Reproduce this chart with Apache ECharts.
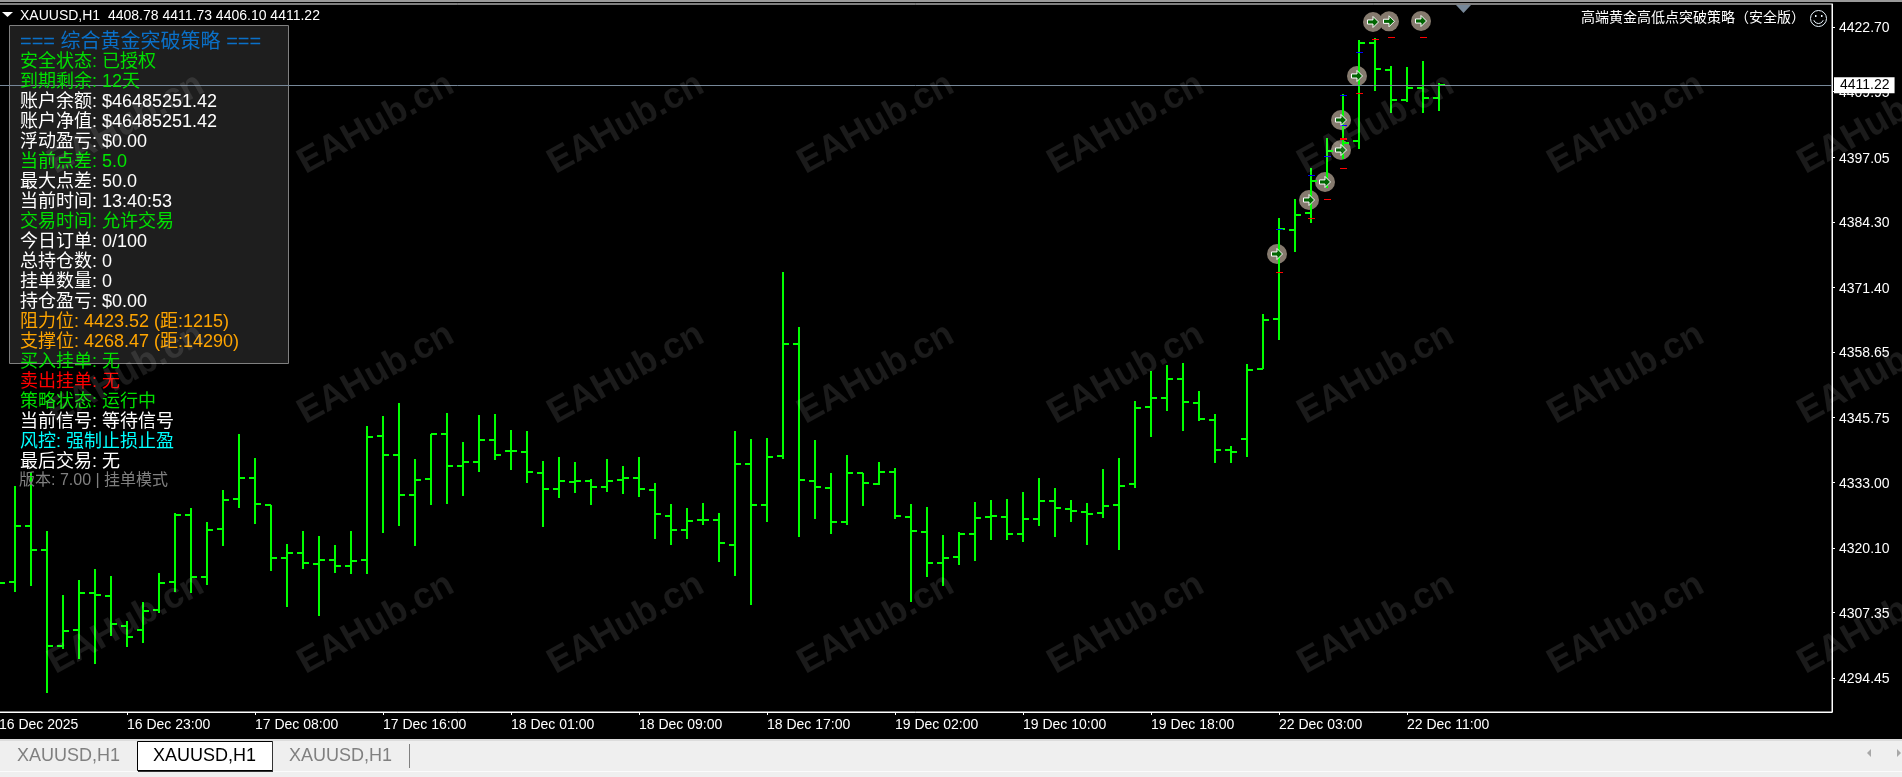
<!DOCTYPE html>
<html>
<head>
<meta charset="utf-8">
<title>XAUUSD,H1</title>
<style>html,body{margin:0;padding:0;background:#000;overflow:hidden}#c{width:1902px;height:777px}</style>
<script src="https://cdn.jsdelivr.net/npm/echarts@6/dist/echarts.min.js"></script>
</head>
<body>
<div id="c"></div>
<script>
// OHLC bars. The first entry is the bar just off the left edge; bar numbers run from -1.
const opens = [4318.00,
4313.37,4324.40,4319.73,4300.76,4303.91,4311.26,4310.67,4304.76,4303.91,4307.79,
4313.37,4326.62,4314.41,4323.81,4329.78,4333.85,4328.59,4318.03,4319.14,4316.97,
4317.76,4316.58,4317.76,4342.13,4338.38,4330.56,4333.72,4342.58,4336.22,4337.07,
4341.40,4339.23,4339.04,4334.90,4331.69,4333.13,4333.32,4332.14,4333.52,4333.91,
4331.55,4326.43,4323.61,4325.64,4325.64,4320.71,4336.67,4328.59,4338.19,4360.25,
4333.32,4331.94,4325.25,4334.90,4332.73,4335.10,4326.23,4323.28,4317.17,4318.35,
4322.88,4326.23,4326.23,4322.88,4325.84,4329.38,4327.75,4327.22,4327.02,4328.59,
4332.73,4347.90,4349.67,4353.42,4348.69,4345.28,4339.37,4341.54,4355.33,4365.24,
4382.71,4386.12,4392.42,4398.47,4400.30,4419.61,4414.29,4408.38,4410.74,4408.78];
const highs = [4320.50,
4332.28,4335.04,4323.41,4310.80,4313.76,4315.93,4314.55,4305.68,4309.43,4315.14,
4326.90,4327.88,4325.19,4331.49,4342.52,4337.79,4328.59,4320.79,4323.41,4322.43,
4320.65,4323.41,4344.10,4346.07,4348.57,4337.60,4342.52,4346.66,4340.95,4346.26,
4346.46,4343.31,4343.11,4337.20,4337.99,4337.01,4333.66,4337.60,4336.22,4337.99,
4332.87,4328.73,4327.94,4328.93,4326.96,4343.11,4341.54,4341.73,4374.44,4363.60,
4341.34,4334.84,4338.38,4334.90,4337.01,4335.82,4328.73,4328.14,4322.62,4323.22,
4329.13,4329.52,4329.72,4331.10,4333.85,4331.88,4329.52,4328.93,4335.63,4337.79,
4349.02,4354.93,4356.11,4356.51,4350.99,4346.46,4340.16,4356.31,4366.16,4385.07,
4388.82,4394.92,4400.83,4409.50,4420.14,4420.53,4415.02,4414.82,4416.00,4411.73];
const lows = [4310.00,
4311.46,4312.64,4291.56,4300.17,4298.26,4297.27,4302.79,4300.62,4301.41,4307.32,
4311.46,4311.26,4312.83,4320.52,4328.00,4324.85,4315.59,4308.50,4315.99,4306.73,
4315.20,4315.00,4315.00,4323.08,4324.40,4320.52,4328.53,4328.73,4330.31,4335.04,
4337.40,4335.43,4332.87,4324.20,4329.91,4330.90,4328.53,4331.10,4330.70,4330.11,
4321.84,4320.65,4321.84,4324.59,4317.31,4314.55,4308.83,4325.19,4337.60,4322.29,
4325.78,4322.82,4324.59,4328.34,4332.53,4325.78,4309.43,4314.35,4312.58,4316.71,
4317.50,4321.64,4321.64,4321.25,4324.40,4322.23,4325.19,4320.65,4325.97,4319.67,
4331.88,4341.93,4347.05,4343.11,4345.08,4336.81,4336.81,4337.99,4355.33,4361.04,
4378.38,4384.09,4390.98,4396.70,4398.67,4410.09,4405.76,4407.93,4405.76,4406.10];
const closes = [4313.23,
4324.40,4319.73,4300.76,4303.77,4311.26,4310.86,4305.15,4302.53,4307.65,4313.23,
4326.62,4314.41,4323.61,4329.58,4333.85,4328.79,4318.03,4319.14,4317.05,4317.76,
4316.58,4317.56,4341.99,4338.44,4330.56,4333.52,4342.46,4336.22,4337.07,4341.40,
4338.44,4339.23,4335.10,4331.69,4333.32,4333.32,4332.14,4333.32,4333.91,4331.69,
4326.82,4323.61,4325.38,4325.64,4321.11,4336.67,4328.59,4338.05,4360.25,4333.52,
4332.14,4325.25,4334.90,4332.93,4335.10,4326.43,4323.47,4317.17,4318.15,4322.76,
4326.03,4326.43,4322.88,4325.84,4329.38,4328.00,4327.41,4326.82,4328.40,4332.34,
4347.70,4349.67,4353.42,4348.89,4345.48,4339.37,4338.98,4355.13,4365.04,4382.91,
4385.66,4392.42,4398.33,4399.91,4419.61,4414.49,4408.38,4410.74,4408.71,4411.22];

// Trade markers
const markerBars   = [79,81,82,83,83,84,85,86,88];
const markerPrices = [4377.98,4388.62,4392.17,4398.47,4404.38,4413.05,4423.69,4423.82,4423.88];
const stopBars     = [79,81,82,83,83,83,84,85,86,88];
const stopPrices   = [4374.38,4385.01,4388.76,4394.86,4400.89,4400.62,4409.64,4420.28,4420.67,4420.67];
const targetBars   = [79,81,82,83,83,84];
const targetPrices = [4382.85,4393.49,4397.23,4403.34,4409.25,4417.84];

// Axes
const priceTicks = [4422.70,4409.95,4397.05,4384.30,4371.40,4358.65,4345.75,4333.00,4320.10,4307.35,4294.45];
const lastPrice = 4411.22;
const timeTickBars = [-1,7,15,23,31,39,47,55,63,71,79,87];
const timeTickLabels = ['16 Dec 2025','16 Dec 23:00','17 Dec 08:00','17 Dec 16:00','18 Dec 01:00','18 Dec 09:00',
  '18 Dec 17:00','19 Dec 02:00','19 Dec 10:00','19 Dec 18:00','22 Dec 03:00','22 Dec 11:00'];

// Texts
const headerText = 'XAUUSD,H1  4408.78 4411.73 4406.10 4411.22';
const eaName = '高端黄金高低点突破策略（安全版）';
const tabNames = ['XAUUSD,H1','XAUUSD,H1','XAUUSD,H1'];
const panelTexts = ['=== 综合黄金突破策略 ===','安全状态: 已授权','到期剩余: 12天','账户余额: $46485251.42','账户净值: $46485251.42',
  '浮动盈亏: $0.00','当前点差: 5.0','最大点差: 50.0','当前时间: 13:40:53','交易时间: 允许交易','今日订单: 0/100','总持仓数: 0',
  '挂单数量: 0','持仓盈亏: $0.00','阻力位: 4423.52 (距:1215)','支撑位: 4268.47 (距:14290)','买入挂单: 无','卖出挂单: 无',
  '策略状态: 运行中','当前信号: 等待信号','风控: 强制止损止盈','最后交易: 无','版本: 7.00 | 挂单模式'];
const panelColors = ['#0a70c8','#00e000','#00e000','#fff','#fff','#fff','#00e800','#fff','#fff','#00e000','#fff','#fff',
  '#fff','#fff','#ffa500','#ffa500','#00e000','#ff0000','#00e000','#fff','#00ffff','#fff','#808080'];

const FONT = '"Liberation Sans","Noto Sans CJK SC",sans-serif';
const GREEN = '#00ff00', SLATE = '#778899';

const barData = opens.map((o,k)=>[k-1,o,highs[k],lows[k],closes[k]]);
const zip = (a,b)=>a.map((v,k)=>[v,b[k]]);

function renderBar(params, api){
  const i=api.value(0);
  const x=Math.round(api.coord([i,api.value(1)])[0]);
  const yO=Math.round(api.coord([i,api.value(1)])[1]);
  const yH=Math.round(api.coord([i,api.value(2)])[1]);
  const yL=Math.round(api.coord([i,api.value(3)])[1]);
  const yC=Math.round(api.coord([i,api.value(4)])[1]);
  const style={fill:GREEN};
  return {type:'group',children:[
    {type:'rect',shape:{x:x-1,y:yH,width:2,height:yL-yH},style},
    {type:'rect',shape:{x:x-6,y:yO-1,width:6,height:2},style},
    {type:'rect',shape:{x:x,y:yC-1,width:6,height:2},style}
  ]};
}
function dashRenderer(color){
  return function(params, api){
    const p=api.coord([api.value(0),api.value(1)]);
    return {type:'rect',shape:{x:Math.round(p[0])-3,y:Math.round(p[1]),width:7,height:1},style:{fill:color}};
  };
}

const g=[];
const txt=(text,x,y,fill,size,extra)=>Object.assign({type:'text',silent:true,z:50,
  style:{text,x,y,fill,font:size+'px '+FONT,textVerticalAlign:'middle',textBaseline:'middle'}},extra||{});
const poly=(points,fill,z)=>({type:'polygon',silent:true,z:z||50,shape:{points},style:{fill}});
const rect=(x,y,w,h,fill,z)=>({type:'rect',silent:true,z:z||40,shape:{x,y,width:w,height:h},style:{fill}});

// window top band
g.push(rect(0,0,1902,2,'#9a9a9a'));
// info panel
g.push({type:'rect',silent:true,z:1,shape:{x:9.5,y:25.5,width:279,height:338},style:{fill:'#1e1e1e',stroke:'#808080',lineWidth:1}});
panelTexts.forEach((t,k)=>{
  const last=k===panelTexts.length-1;
  g.push(txt(t,last?19:20,last?481:42+k*20,panelColors[k],k===0?20:(last?16:18)));
});
// header
g.push(poly([[2,12],[13,12],[7.5,17]],'#fff'));
g.push(txt(headerText,20,16,'#fff',14));
// EA name and smiley
g.push(txt(eaName,1581,18,'#fff',14));
g.push({type:'circle',silent:true,z:50,shape:{cx:1818.5,cy:18.5,r:8},style:{fill:'none',stroke:'#eaf6ff',lineWidth:1}});
g.push({type:'arc',silent:true,z:50,shape:{cx:1818.5,cy:18.5,r:5,startAngle:0.35,endAngle:Math.PI-0.35,clockwise:true},style:{fill:'none',stroke:'#eaf6ff',lineWidth:1}});
g.push(rect(1815,15,1.5,2,'#eaf6ff',50));
g.push(rect(1821,15,1.5,2,'#eaf6ff',50));
// chart shift triangle
g.push(poly([[1456,5],[1471,5],[1463.5,13]],SLATE));
// bottom tab bar
g.push(rect(0,739,1902,2,'#dcdcdc'));
g.push(rect(0,741,1902,36,'#efefef'));
g.push(rect(0,771,1902,1,'#fbfbfb'));
g.push({type:'rect',silent:true,z:42,shape:{x:137.5,y:741.5,width:135,height:29},style:{fill:'#fff',stroke:'#000',lineWidth:1}});
g.push(rect(272,742,1,30,'#333',43));
g.push(rect(138,771,135,1,'#333',43));
g.push(rect(409,744,1,24,'#808080',43));
[[17,'#808080'],[153,'#000'],[289,'#808080']].forEach((c,k)=>g.push(txt(tabNames[k],c[0],756,c[1],18)));
g.push(poly([[1871,749],[1871,757],[1867,753]],'#a8a8a8'));
g.push(poly([[1897,749],[1897,757],[1901,753]],'#a8a8a8'));
// watermark
for(let r=0;r<3;r++) for(let c=0;c<8;c++){
  g.push({type:'text',silent:true,z:100,x:126+250*c,y:124+250*r,rotation:29*Math.PI/180,
    style:{text:'EAHub.cn',x:0,y:0,fill:'rgba(255,255,255,0.105)',font:'bold 36px "Liberation Sans"',textAlign:'center',textVerticalAlign:'middle',textBaseline:'middle'}});
}

const chart=echarts.init(document.getElementById('c'),null,{renderer:'canvas'});
chart.setOption({
  animation:false,
  backgroundColor:'#000',
  grid:{left:-1,top:4,width:1833,height:708,show:true,backgroundColor:'#000',borderColor:'#fff',borderWidth:1,containLabel:false,outerBoundsMode:'none'},
  xAxis:{type:'value',min:-1,max:113.5625,splitLine:{show:false},
    axisLine:{show:true,onZero:false,lineStyle:{color:'#fff',width:1}},
    axisTick:{show:true,customValues:timeTickBars,length:3,lineStyle:{color:'#fff',width:1}},
    axisLabel:{show:true,customValues:timeTickBars,align:'left',margin:6,color:'#fff',fontSize:14,fontFamily:FONT,
      showMinLabel:true,showMaxLabel:true,hideOverlap:false,
      formatter:v=>timeTickLabels[timeTickBars.indexOf(v)]||''}},
  yAxis:{type:'value',position:'right',min:4287.76,max:4427.23,scale:true,splitLine:{show:false},
    axisLine:{show:true,onZero:false,lineStyle:{color:'#fff',width:1}},
    axisTick:{show:true,customValues:priceTicks,length:3,lineStyle:{color:'#fff',width:1}},
    axisLabel:{show:true,customValues:priceTicks,margin:7,color:'#fff',fontSize:14,fontFamily:FONT,
      showMinLabel:true,showMaxLabel:true,hideOverlap:false,
      rich:{p:{color:'#fff',fontSize:14,fontFamily:FONT,padding:[3,0,0,0]}},
      formatter:v=>'{p|'+v.toFixed(2)+'}'}},
  series:[
    {type:'scatter',name:'markerBase',z:2,silent:true,data:zip(markerBars,markerPrices),symbol:'circle',symbolSize:20,
      symbolOffset:[-2,0],itemStyle:{color:'#857a6e',opacity:1}},
    {type:'custom',name:'bars',z:3,silent:true,clip:true,renderItem:renderBar,encode:{x:0,y:[1,2,3,4]},data:barData,
      markLine:{silent:true,symbol:'none',z:6,animation:false,
        lineStyle:{color:SLATE,width:1,type:'solid'},
        label:{show:true,position:'end',distance:2,formatter:lastPrice.toFixed(2),color:'#000',backgroundColor:'#fff',
          padding:[1,5,1,6],fontSize:14,fontFamily:FONT},
        data:[{yAxis:lastPrice}]}},
    {type:'custom',name:'stops',z:4,silent:true,renderItem:dashRenderer('#ff0000'),encode:{x:0,y:1},data:zip(stopBars,stopPrices)},
    {type:'custom',name:'targets',z:4,silent:true,renderItem:dashRenderer('#0000ff'),encode:{x:0,y:1},data:zip(targetBars,targetPrices)},
    {type:'scatter',name:'markerArrow',z:5,silent:true,data:zip(markerBars,markerPrices),
      symbol:'path://M0 2.5H4V0L8 4L4 8V5.5H0Z',symbolSize:11,symbolOffset:[-2,0],
      itemStyle:{color:'#006400',borderColor:'#fff',borderWidth:1,opacity:1}}
  ],
  graphic:{elements:g}
});
</script>
</body>
</html>
